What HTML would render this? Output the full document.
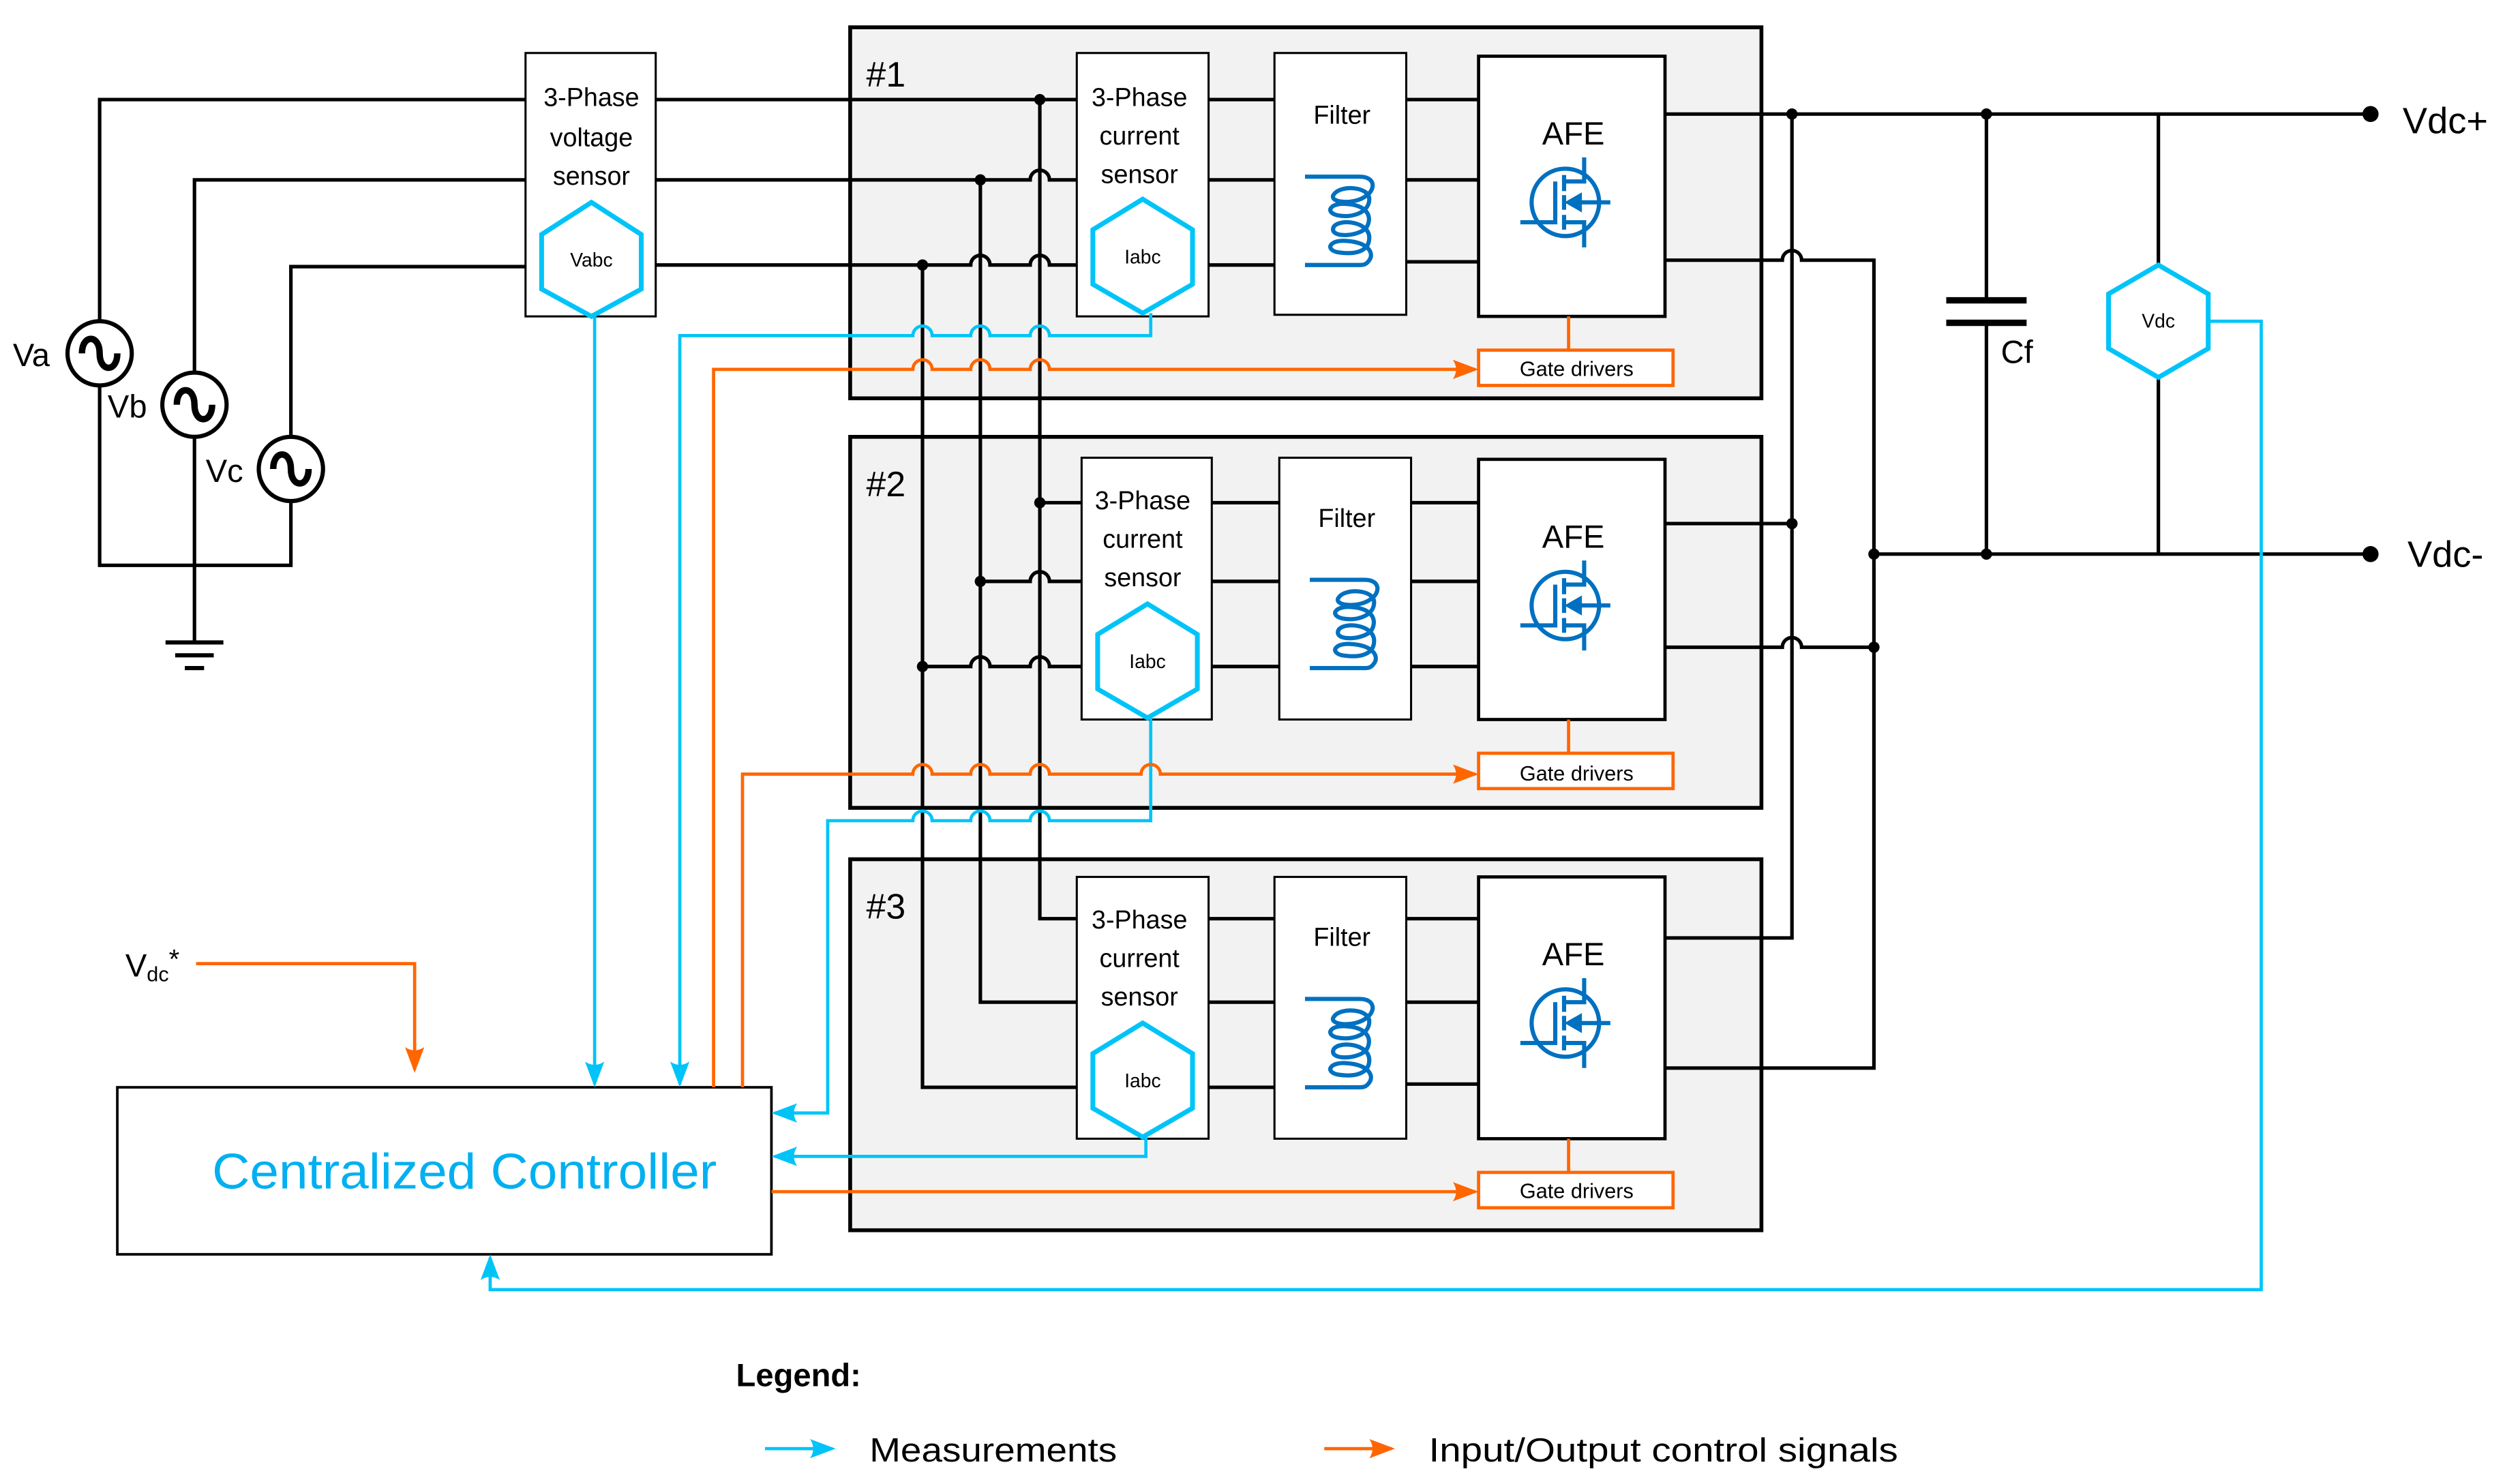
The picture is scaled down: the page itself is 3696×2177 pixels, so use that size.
<!DOCTYPE html>
<html><head><meta charset="utf-8"><style>
html,body{margin:0;padding:0;background:#fff}
svg{display:block}
text{font-family:"Liberation Sans",sans-serif}
</style></head><body>
<svg width="3696" height="2177" viewBox="0 0 1568 924" preserveAspectRatio="none" xmlns="http://www.w3.org/2000/svg">
<defs>
<marker id="ab" markerWidth="16" markerHeight="14" refX="14" refY="6" orient="auto" markerUnits="userSpaceOnUse" viewBox="0 0 16 12"><path d="M0 0 L16 6 L0 12 Q4 6 0 0Z" fill="#00c4f8"/></marker>
<marker id="ao" markerWidth="16" markerHeight="14" refX="14" refY="6" orient="auto" markerUnits="userSpaceOnUse" viewBox="0 0 16 12"><path d="M0 0 L16 6 L0 12 Q4 6 0 0Z" fill="#ff6600"/></marker>
<g id="mos" fill="none" stroke="#0070c0" stroke-width="2.6">
<circle cx="0" cy="0" r="21"/>
<path d="M-28 12.4 H-6.3 V-13"/>
<path d="M-0.8 -17 V-7 M-0.8 -4.5 V4.6 M-0.8 7.8 V17"/>
<path d="M-0.8 -13 H11.7 V-28 M-0.8 12.4 H11.7 V28 M2 0 H28"/>
<path d="M2 0 L9 -4 V4Z" fill="#0070c0"/>
</g>
<g id="coil" fill="none" stroke="#0070c0" stroke-width="2.6">
<path d="M0 0 H34 C44 0 44 8 38 12 C30 18 14 16 18 11 C22 5 40 6 40 14 C40 22 30 26 20 24 C12 22 16 16 26 17 C40 18 42 26 38 32 C32 38 14 38 18 31 C22 26 40 28 40 38 C40 46 32 49 20 47 C12 45 16 39 26 40 C40 41 43 48 40 52 C38 55 36 55 34 55 H0"/>
</g>
</defs>

<g stroke="#000" stroke-width="2.4" fill="#f2f2f2">
<rect x="529" y="17" width="567" height="231"/>
<rect x="529" y="272" width="567" height="231"/>
<rect x="529" y="535" width="567" height="231"/>
</g>
<g font-size="22" fill="#000">
<text x="539" y="54">#1</text><text x="539" y="309">#2</text><text x="539" y="572">#3</text>
</g>

<g fill="none" stroke="#000" stroke-width="2.2">
<path d="M62 200 V62 H327"/>
<path d="M121 232 V112 H327"/>
<path d="M181 272 V166 H327"/>
<path d="M62 240 V352 H181 V312"/>
<path d="M121 272 V400"/>
<path d="M103 400 H139 M109 408 H133 M115 416 H127" stroke-width="2.6"/>
</g>
<g fill="#fff" stroke="#000" stroke-width="2.6">
<circle cx="62" cy="220" r="20"/><circle cx="121" cy="252" r="20"/><circle cx="181" cy="292" r="20"/>
</g>
<g fill="none" stroke="#000" stroke-width="4">
<path d="M51 220 C51 208 62 208 62 220 S73 232 73 220"/>
<path d="M110 252 C110 240 121 240 121 252 S132 264 132 252"/>
<path d="M170 292 C170 280 181 280 181 292 S192 304 192 292"/>
</g>
<g font-size="20" fill="#000">
<text x="8" y="228">Va</text><text x="67" y="260">Vb</text><text x="128" y="300">Vc</text>
</g>

<g fill="none" stroke="#000" stroke-width="2.2">
<path d="M408 62 H670"/>
<path d="M408 112 H641 a6 6 0 0 1 12 0 H670"/>
<path d="M408 165 H604 a6 6 0 0 1 12 0 H641 a6 6 0 0 1 12 0 H670"/>
<path d="M647 62 V572 H670"/>
<path d="M610 112 V624 H670"/>
<path d="M574 165 V677 H670"/>
<path d="M647 313 H673"/>
<path d="M610 362 H641 a6 6 0 0 1 12 0 H673"/>
<path d="M574 415 H604 a6 6 0 0 1 12 0 H641 a6 6 0 0 1 12 0 H673"/>
<path d="M752 62 H793 M752 112 H793 M752 165 H793"/>
<path d="M754 313 H796 M754 362 H796 M754 415 H796"/>
<path d="M752 572 H793 M752 624 H793 M752 677 H793"/>
<path d="M875 62 H920 M875 112 H920 M875 163 H920"/>
<path d="M878 313 H920 M878 362 H920 M878 415 H920"/>
<path d="M875 572 H920 M875 624 H920 M875 675 H920"/>
<path d="M1036 71 H1475"/>
<path d="M1036 162 H1109 a6 6 0 0 1 12 0 H1166 V665 H1036"/>
<path d="M1036 326 H1115"/>
<path d="M1036 403 H1109 a6 6 0 0 1 12 0 H1166"/>
<path d="M1036 584 H1115 V71"/>
<path d="M1166 345 H1475"/>
<path d="M1236 71 V187 M1236 201 V345"/>
<path d="M1343 71 V165 M1343 235 V345"/>
</g>
<path d="M1211 187 H1261 M1211 201 H1261" stroke="#000" stroke-width="4"/>
<g fill="#000">
<circle cx="647" cy="62" r="3.5"/><circle cx="610" cy="112" r="3.5"/><circle cx="574" cy="165" r="3.5"/>
<circle cx="647" cy="313" r="3.5"/><circle cx="610" cy="362" r="3.5"/><circle cx="574" cy="415" r="3.5"/>
<circle cx="1115" cy="71" r="3.5"/><circle cx="1236" cy="71" r="3.5"/><circle cx="1115" cy="326" r="3.5"/>
<circle cx="1166" cy="345" r="3.5"/><circle cx="1236" cy="345" r="3.5"/><circle cx="1166" cy="403" r="3.5"/>
<circle cx="1475" cy="71" r="5"/><circle cx="1475" cy="345" r="5"/>
</g>
<g font-size="23" fill="#000"><text x="1495" y="83">Vdc+</text><text x="1498" y="353">Vdc-</text><text x="1245" y="226" font-size="20">Cf</text></g>

<g fill="#fff" stroke="#000" stroke-width="1.3">
<rect x="327" y="33" width="81" height="164"/>
<rect x="670" y="33" width="82" height="164"/>
<rect x="673" y="285" width="81" height="163"/>
<rect x="670" y="546" width="82" height="163"/>
<rect x="793" y="33" width="82" height="163"/>
<rect x="796" y="285" width="82" height="163"/>
<rect x="793" y="546" width="82" height="163"/>
</g>
<g fill="#fff" stroke="#000" stroke-width="2">
<rect x="920" y="35" width="116" height="162"/>
<rect x="920" y="286" width="116" height="162"/>
<rect x="920" y="546" width="116" height="163"/>
<rect x="73" y="677" width="407" height="104" stroke-width="1.6"/>
</g>
<g font-size="16" fill="#000" text-anchor="middle">
<text x="368" y="66">3-Phase</text><text x="368" y="91">voltage</text><text x="368" y="115">sensor</text>
<text x="709" y="66">3-Phase</text><text x="709" y="90">current</text><text x="709" y="114">sensor</text>
<text x="711" y="317">3-Phase</text><text x="711" y="341">current</text><text x="711" y="365">sensor</text>
<text x="709" y="578">3-Phase</text><text x="709" y="602">current</text><text x="709" y="626">sensor</text>
<text x="835" y="77">Filter</text><text x="838" y="328">Filter</text><text x="835" y="589">Filter</text>
<text x="979" y="90" font-size="20">AFE</text><text x="979" y="341" font-size="20">AFE</text><text x="979" y="601" font-size="20">AFE</text>
</g>
<use href="#coil" x="812" y="110"/><use href="#coil" x="815" y="361"/><use href="#coil" x="812" y="622"/>
<use href="#mos" x="974" y="126"/><use href="#mos" x="974" y="377"/><use href="#mos" x="974" y="637"/>

<g fill="#fff" stroke="#00c4f8" stroke-width="3">
<polygon points="368,126 399,146 399,180 368,197 337,180 337,146"/>
<polygon points="711,124 742,143 742,177 711,195 680,177 680,143"/>
<polygon points="714,376 745,395 745,429 714,447 683,429 683,395"/>
<polygon points="711,637 742,656 742,690 711,708 680,690 680,656"/>
<polygon points="1343,165 1374,183 1374,217 1343,235 1312,217 1312,183"/>
</g>
<g font-size="12" fill="#000" text-anchor="middle">
<text x="368" y="166">Vabc</text><text x="711" y="164">Iabc</text><text x="714" y="416">Iabc</text><text x="711" y="677">Iabc</text><text x="1343" y="204">Vdc</text>
</g>

<g fill="#fff" stroke="#ff6600" stroke-width="2">
<rect x="920" y="218" width="121" height="22"/><rect x="920" y="469" width="121" height="22"/><rect x="920" y="730" width="121" height="22"/>
</g>
<path d="M976 197 V218 M976 448 V469 M976 709 V730" stroke="#ff6600" stroke-width="2"/>
<g font-size="13" fill="#000" text-anchor="middle">
<text x="981" y="234">Gate drivers</text><text x="981" y="486">Gate drivers</text><text x="981" y="746">Gate drivers</text>
</g>

<g fill="none" stroke="#00c4f8" stroke-width="2">
<path d="M370 197 V675" marker-end="url(#ab)"/>
<path d="M716 195 V209 H653 a6 6 0 0 0 -12 0 H616 a6 6 0 0 0 -12 0 H580 a6 6 0 0 0 -12 0 H423 V675" marker-end="url(#ab)"/>
<path d="M716 447 V511 H653 a6 6 0 0 0 -12 0 H616 a6 6 0 0 0 -12 0 H580 a6 6 0 0 0 -12 0 H515 V693 H482" marker-end="url(#ab)"/>
<path d="M713 708 V720 H482" marker-end="url(#ab)"/>
<path d="M1374 200 H1407 V803 H305 V783" marker-end="url(#ab)"/>
<path d="M476 902 H518" marker-end="url(#ab)"/>
</g>
<g fill="none" stroke="#ff6600" stroke-width="2">
<path d="M444 677 V230 H568 a6 6 0 0 1 12 0 H604 a6 6 0 0 1 12 0 H641 a6 6 0 0 1 12 0 H918" marker-end="url(#ao)"/>
<path d="M462 677 V482 H568 a6 6 0 0 1 12 0 H604 a6 6 0 0 1 12 0 H641 a6 6 0 0 1 12 0 H710 a6 6 0 0 1 12 0 H918" marker-end="url(#ao)"/>
<path d="M480 742 H918" marker-end="url(#ao)"/>
<path d="M122 600 H258 V666" marker-end="url(#ao)"/>
<path d="M824 902 H866" marker-end="url(#ao)"/>
</g>

<text x="78" y="608" font-size="20" fill="#000">V<tspan font-size="13" dy="3">dc</tspan><tspan dy="-8" font-size="17">*</tspan></text>
<text x="289" y="740" font-size="31" fill="#00b0f0" text-anchor="middle" textLength="314" lengthAdjust="spacingAndGlyphs">Centralized Controller</text>
<text x="458" y="863" font-size="20" font-weight="bold" fill="#000">Legend:</text>
<text x="541" y="910" font-size="21" fill="#000" textLength="154" lengthAdjust="spacingAndGlyphs">Measurements</text>
<text x="889" y="910" font-size="21" fill="#000" textLength="292" lengthAdjust="spacingAndGlyphs">Input/Output control signals</text>
</svg>
</body></html>
